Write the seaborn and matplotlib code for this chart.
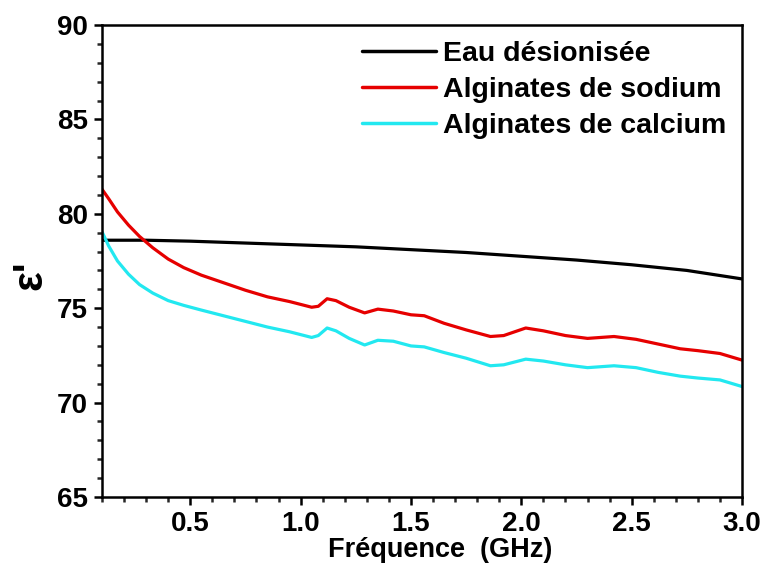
import numpy as np
import pandas as pd
import matplotlib
matplotlib.use("Agg")
import matplotlib.pyplot as plt
from matplotlib.ticker import MultipleLocator
import seaborn as sns

# ===============================
# DATA
# ===============================

freq_water = [0.10, 0.30, 0.50, 0.75, 1.00, 1.25, 1.50, 1.75, 2.00, 2.25, 2.50, 2.75, 3.00]
eps_water = [78.6, 78.6, 78.55, 78.45, 78.35, 78.25, 78.1, 77.95, 77.75, 77.55, 77.3, 77.0, 76.55]

freq_alg = [0.10, 0.13, 0.17, 0.22, 0.27, 0.33, 0.40, 0.47, 0.55, 0.65, 0.75,
            0.85, 0.95, 1.05, 1.08, 1.12, 1.16, 1.22, 1.29, 1.35, 1.42, 1.50,
            1.56, 1.65, 1.75, 1.86, 1.92, 2.02, 2.10, 2.20, 2.30, 2.42, 2.52,
            2.62, 2.72, 2.80, 2.90, 3.00]
eps_sodium = [81.3, 80.8, 80.1, 79.4, 78.8, 78.2, 77.6, 77.15, 76.75, 76.35, 75.95,
              75.6, 75.35, 75.05, 75.1, 75.5, 75.4, 75.05, 74.75, 74.95, 74.85, 74.65,
              74.6, 74.2, 73.85, 73.5, 73.55, 73.95, 73.8, 73.55, 73.4, 73.5, 73.35,
              73.1, 72.85, 72.75, 72.6, 72.25]
eps_calcium = [79.05, 78.3, 77.5, 76.8, 76.25, 75.8, 75.4, 75.15, 74.9, 74.6, 74.3,
               74.0, 73.75, 73.45, 73.55, 73.95, 73.8, 73.4, 73.05, 73.3, 73.25, 73.0,
               72.95, 72.65, 72.35, 71.95, 72.0, 72.3, 72.2, 72.0, 71.85, 71.95, 71.85,
               71.6, 71.4, 71.3, 71.2, 70.85]

LABELS = ["Eau désionisée", "Alginates de sodium", "Alginates de calcium"]
COLORS = ["#000000", "#e60000", "#22e8f0"]

df = pd.concat([
    pd.DataFrame({"f": freq_water, "eps": eps_water, "serie": LABELS[0]}),
    pd.DataFrame({"f": freq_alg, "eps": eps_sodium, "serie": LABELS[1]}),
    pd.DataFrame({"f": freq_alg, "eps": eps_calcium, "serie": LABELS[2]}),
])

# ===============================
# PLOT
# ===============================

sns.set_style("ticks")
plt.rcParams["font.family"] = ["Liberation Sans", "DejaVu Sans"]
plt.rcParams["font.weight"] = "bold"
plt.rcParams["text.color"] = "black"
plt.rcParams["axes.labelcolor"] = "black"

fig = plt.figure(figsize=(7.63, 5.76), dpi=100)
ax = fig.add_axes([0.1337, 0.1372, 0.8388, 0.8194])

sns.lineplot(data=df, x="f", y="eps", hue="serie", palette=COLORS,
             hue_order=LABELS, linewidth=2.3, ax=ax, sort=False)

ax.set_xlim(0.1, 3.0)
ax.set_ylim(65, 90)
ax.xaxis.set_major_locator(MultipleLocator(0.5))
ax.xaxis.set_minor_locator(MultipleLocator(0.1))
ax.yaxis.set_major_locator(MultipleLocator(5))
ax.yaxis.set_minor_locator(MultipleLocator(1))
ax.set_xticks([0.5, 1.0, 1.5, 2.0, 2.5, 3.0])
ax.set_xticklabels(["0.5", "1.0", "1.5", "2.0", "2.5", "3.0"])

for s in ax.spines.values():
    s.set_linewidth(1.8)
    s.set_color("black")
ax.tick_params(which="major", direction="out", length=6, width=1.8,
               labelsize=20, colors="black", pad=4)
ax.tick_params(which="minor", direction="out", length=3.5, width=1.8)
for lbl in ax.get_xticklabels() + ax.get_yticklabels():
    lbl.set_fontweight("bold")

ax.set_xlabel("Fréquence  (GHz)", fontsize=19.5, fontweight="bold")
ax.xaxis.set_label_coords(0.528, -0.085)
ax.set_ylabel("ε'", fontsize=30, fontweight="bold")
ax.yaxis.set_label_coords(-0.08, 0.47)

leg = ax.legend(loc="upper right", frameon=False,
                handlelength=2.6, handletextpad=0.25, labelspacing=0.35,
                borderaxespad=0.15, prop={"weight": "bold", "size": 20.5})
for h in leg.get_lines():
    h.set_linewidth(2.5)

fig.savefig("out.png", dpi=100)
